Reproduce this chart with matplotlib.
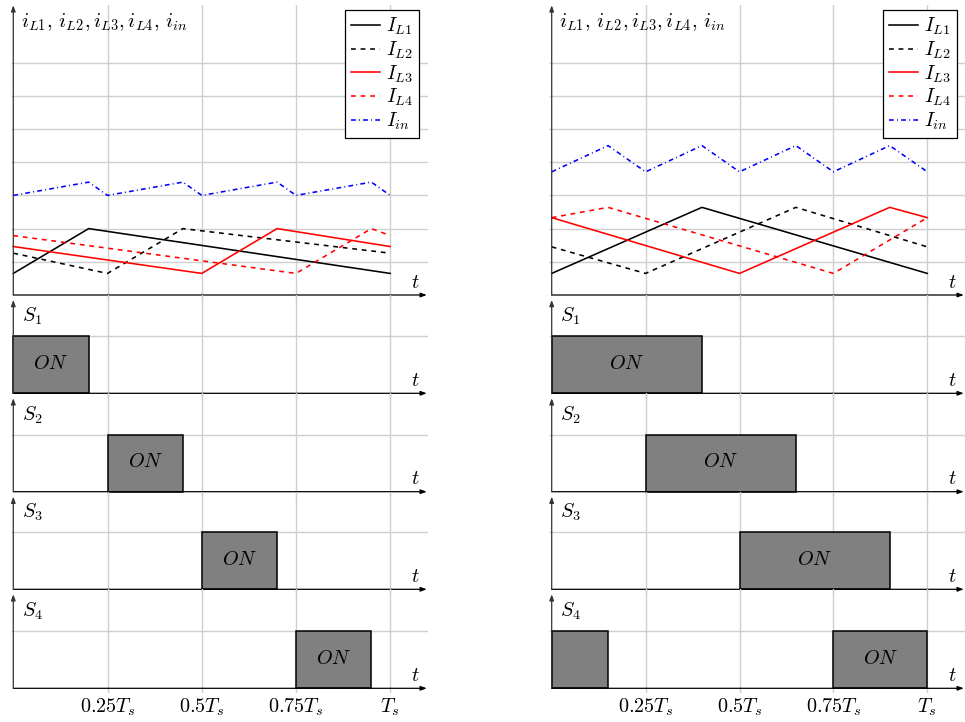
import matplotlib
matplotlib.use("Agg")
import matplotlib.pyplot as plt

plt.rcParams['mathtext.fontset'] = 'cm'
plt.rcParams['font.family'] = ['DejaVu Serif']

# ---------------- data (t in units of Ts) ----------------
# left case (D = 0.2)
L_t_L1 = [0, 0.2, 1];            L_i_L1 = [0.65, 2.0, 0.65]
L_t_L2 = [0, 0.25, 0.45, 1];     L_i_L2 = [1.26, 0.65, 2.0, 1.26]
L_t_L3 = [0, 0.5, 0.7, 1];       L_i_L3 = [1.46, 0.65, 2.0, 1.46]
L_t_L4 = [0, 0.75, 0.95, 1];     L_i_L4 = [1.79, 0.65, 2.0, 1.79]
L_t_in = [0, 0.2, 0.25, 0.45, 0.5, 0.7, 0.75, 0.95, 1]
L_i_in = [3.0, 3.4, 3.0, 3.4, 3.0, 3.4, 3.0, 3.4, 3.0]
L_on = [[(0, 0.2)], [(0.25, 0.45)], [(0.5, 0.7)], [(0.75, 0.95)]]

# right case (D = 0.4)
R_t_L1 = [0, 0.4, 1];            R_i_L1 = [0.65, 2.64, 0.65]
R_t_L2 = [0, 0.25, 0.65, 1];     R_i_L2 = [1.45, 0.65, 2.64, 1.45]
R_t_L3 = [0, 0.5, 0.9, 1];       R_i_L3 = [2.33, 0.65, 2.64, 2.33]
R_t_L4 = [0, 0.15, 0.75, 1];     R_i_L4 = [2.33, 2.64, 0.65, 2.33]
R_t_in = [0, 0.15, 0.25, 0.4, 0.5, 0.65, 0.75, 0.9, 1]
R_i_in = [3.71, 4.5, 3.71, 4.5, 3.71, 4.5, 3.71, 4.5, 3.71]
R_on = [[(0, 0.4)], [(0.25, 0.65)], [(0.5, 0.9)], [(0.75, 1.0), (0, 0.15)]]

grid_t = [0.25, 0.5, 0.75, 1.0]
tick_labels = [r'$0.25T_s$', r'$0.5T_s$', r'$0.75T_s$', r'$T_s$']
switch_names = [r'$S_1$', r'$S_2$', r'$S_3$', r'$S_4$']
legend_labels = [r'$I_{L1}$', r'$I_{L2}$', r'$I_{L3}$', r'$I_{L4}$', r'$I_{in}$']
ylabel = r'$i_{L1},\,i_{L2},i_{L3},i_{L4},\,i_{in}$'

# ---------------- layout ----------------
W, H = 965, 722
FS = 14.5
GC = '#cfcfcf'
fig = plt.figure(figsize=(W / 100, H / 100), dpi=100)

XMIN, XMAX = -0.006, 1.1
TOP_AXIS, TOP_TOP, TOP_UNIT = 295, 5, 33.2
S_AXIS = [393.3, 491.7, 589.3, 688.3]
S_PREV = [295, 393.3, 491.7, 589.3]
S_UNIT = 57.0

cols = [
    dict(x0=13.3, sc=376.9, leg=(419.3, 10),
         data=[(L_t_L1, L_i_L1), (L_t_L2, L_i_L2), (L_t_L3, L_i_L3), (L_t_L4, L_i_L4), (L_t_in, L_i_in)],
         on=L_on),
    dict(x0=551.7, sc=375.6, leg=(957.3, 10),
         data=[(R_t_L1, R_i_L1), (R_t_L2, R_i_L2), (R_t_L3, R_i_L3), (R_t_L4, R_i_L4), (R_t_in, R_i_in)],
         on=R_on),
]

styles = [dict(color='black', ls='-'),
          dict(color='black', ls=(0, (3, 3))),
          dict(color='red', ls='-'),
          dict(color='red', ls=(0, (3, 3))),
          dict(color='blue', ls=(0, (3, 2, 0.6, 2)))]


def add_ax(xl, xr, yt, yb):
    ax = fig.add_axes([xl / W, 1 - yb / H, (xr - xl) / W, (yb - yt) / H])
    ax.set_axis_off()
    ax.patch.set_alpha(0)
    return ax


def arrows(ax, ytop):
    ap = dict(arrowstyle='-|>,head_length=0.35,head_width=0.13', lw=0.9,
              shrinkA=0, shrinkB=0, mutation_scale=10)
    ax.annotate('', xy=(1.097, 0), xytext=(0, 0),
                arrowprops=dict(color='black', **ap), annotation_clip=False)
    ax.annotate('', xy=(0, ytop), xytext=(0, 0),
                arrowprops=dict(color='#333333', **ap), annotation_clip=False)


for c in cols:
    x0, sc = c['x0'], c['sc']
    xl, xr = x0 + XMIN * sc, x0 + XMAX * sc

    # ---- current panel ----
    ax = add_ax(xl, xr, TOP_TOP, TOP_AXIS + 5)
    y0 = -5 / TOP_UNIT
    y1 = (TOP_AXIS - TOP_TOP) / TOP_UNIT
    ax.set_xlim(XMIN, XMAX)
    ax.set_ylim(y0, y1)
    ax.hlines(range(1, 8), XMIN, XMAX, color=GC, lw=1.0, zorder=0)
    for g in grid_t:
        ax.axvline(g, color=GC, lw=1.0, zorder=0)
    handles = []
    for (tt, ii), st, lab in zip(c['data'], styles, legend_labels):
        ln, = ax.plot(tt, ii, lw=1.15, label=lab, **st)
        handles.append(ln)
    arrows(ax, y1 - 0.01)
    ax.text(0.02, (TOP_AXIS - 27) / TOP_UNIT, ylabel, fontsize=14.8, va='baseline', ha='left')
    ax.text(1.066, 0.2, r'$t$', fontsize=FS, va='baseline', ha='center')
    lx, ly = c['leg']
    leg = ax.legend(handles=handles, loc='upper right',
                    bbox_to_anchor=(lx / W, 1 - ly / H), bbox_transform=fig.transFigure,
                    borderaxespad=0, fontsize=FS, frameon=True, fancybox=False,
                    edgecolor='black', framealpha=1, handlelength=1.45,
                    handletextpad=0.3, labelspacing=0.11, borderpad=0.3)
    leg.get_frame().set_linewidth(0.9)

    # ---- switch panels ----
    for k in range(4):
        axs = add_ax(xl, xr, S_PREV[k], S_AXIS[k] + 5)
        y0 = -5 / S_UNIT
        y1 = (S_AXIS[k] - S_PREV[k]) / S_UNIT
        axs.set_xlim(XMIN, XMAX)
        axs.set_ylim(y0, y1)
        axs.hlines([1], XMIN, XMAX, color=GC, lw=1.0, zorder=0)
        for g in grid_t:
            axs.axvline(g, color=GC, lw=1.0, zorder=0)
        for j, (a, b) in enumerate(c['on'][k]):
            axs.bar(a, 1, width=b - a, align='edge', color='#808080',
                    edgecolor='black', lw=1.1, zorder=2)
            if j == 0:
                axs.text((a + b) / 2, 0.53, r'$ON$', fontsize=FS, ha='center', va='center', zorder=3)
        arrows(axs, y1 - 5 / S_UNIT)
        axs.text(0.022, 71.6 / S_UNIT, switch_names[k], fontsize=FS, va='baseline', ha='left')
        axs.text(1.066, 0.13, r'$t$', fontsize=FS, va='baseline', ha='center')
        if k == 3:
            for g, lab in zip(grid_t, tick_labels):
                axs.text(g, -24 / S_UNIT, lab, fontsize=FS, ha='center', va='baseline')

fig.savefig('out.png', dpi=100)
